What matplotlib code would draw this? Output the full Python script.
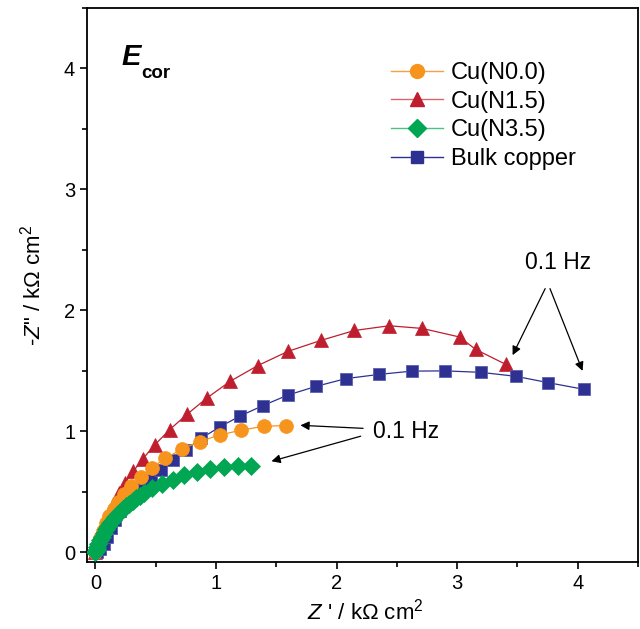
import matplotlib
matplotlib.use("Agg")
import matplotlib.pyplot as plt
from matplotlib.lines import Line2D

plt.rcParams['font.family'] = ['Liberation Sans', 'DejaVu Sans']
plt.rcParams['mathtext.fontset'] = 'custom'
plt.rcParams['mathtext.rm'] = 'Liberation Sans'
plt.rcParams['mathtext.it'] = 'Liberation Sans:italic'
plt.rcParams['mathtext.bf'] = 'Liberation Sans:bold'

# ---- data (kOhm cm^2) ----
n00_x = [0.0, 0.008, 0.02, 0.04, 0.06, 0.085, 0.115, 0.15, 0.188, 0.235, 0.298, 0.375,
         0.467, 0.58, 0.716, 0.865, 1.03, 1.204, 1.395, 1.577]
n00_y = [0.0, 0.03, 0.07, 0.12, 0.18, 0.24, 0.30, 0.36, 0.418, 0.481, 0.547, 0.621,
         0.698, 0.778, 0.852, 0.916, 0.970, 1.009, 1.042, 1.048]

n15_x = [0.0, 0.014, 0.041, 0.077, 0.116, 0.155, 0.196, 0.246, 0.315, 0.392, 0.492,
         0.616, 0.76, 0.925, 1.116, 1.345, 1.596, 1.87, 2.148, 2.436, 2.71, 3.02,
         3.154, 3.405]
n15_y = [0.0, 0.077, 0.17, 0.253, 0.33, 0.404, 0.487, 0.574, 0.671, 0.772, 0.888,
         1.015, 1.141, 1.276, 1.413, 1.543, 1.661, 1.752, 1.834, 1.873, 1.851, 1.78,
         1.677, 1.553]

n35_x = [0.0, 0.005, 0.01, 0.016, 0.025, 0.041, 0.055, 0.072, 0.088, 0.105, 0.123,
         0.143, 0.163, 0.185, 0.206, 0.229, 0.255, 0.282, 0.31, 0.34, 0.37, 0.403,
         0.472, 0.549, 0.64, 0.737, 0.845, 0.953, 1.066, 1.179, 1.29]
n35_y = [0.0, 0.01, 0.025, 0.044, 0.065, 0.104, 0.13, 0.159, 0.19, 0.217, 0.243,
         0.267, 0.29, 0.313, 0.337, 0.36, 0.38, 0.40, 0.425, 0.446, 0.467, 0.487,
         0.528, 0.566, 0.602, 0.64, 0.665, 0.69, 0.704, 0.715, 0.715]

bulk_x = [0.015, 0.04, 0.07, 0.1, 0.13, 0.16, 0.2, 0.26, 0.32, 0.386, 0.46, 0.544,
          0.64, 0.748, 0.878, 1.03, 1.196, 1.389, 1.596, 1.83, 2.077, 2.353, 2.624,
          2.90, 3.195, 3.488, 3.753, 4.054]
bulk_y = [0.005, 0.03, 0.07, 0.13, 0.2, 0.27, 0.34, 0.41, 0.47, 0.533, 0.602, 0.679,
          0.762, 0.847, 0.943, 1.036, 1.125, 1.213, 1.30, 1.372, 1.436, 1.471, 1.498,
          1.50, 1.488, 1.455, 1.403, 1.347]

labels = ['Cu(N0.0)', 'Cu(N1.5)', 'Cu(N3.5)', 'Bulk copper']
c_or = '#F7941D'
c_red = '#BE1E2D'
c_grn = '#00A651'
c_blu = '#2E3192'

fig = plt.figure(figsize=(6.40, 6.29), dpi=100)
ax = fig.add_axes([87/640, 1-562/629, 551/640, 554/629])

ax.plot(n15_x, n15_y, '-', color=c_red, lw=0.9, marker='^', ms=10.5, mec=c_red, mew=0.5, zorder=2)
ax.plot(bulk_x, bulk_y, '-', color=c_blu, lw=0.9, marker='s', ms=8.5, mec='#5a5fb0', mew=0.6, zorder=3)
ax.plot(n00_x, n00_y, '-', color=c_or, lw=0.9, marker='o', ms=10, mec=c_or, mew=0.5, zorder=4)
ax.plot(n35_x, n35_y, '-', color=c_grn, lw=0.9, marker='D', ms=9.5, mec=c_grn, mew=0.5, zorder=5)

ax.set_xlim(-0.07, 4.5)
ax.set_ylim(-0.08, 4.5)
ax.set_xticks([0, 1, 2, 3, 4])
ax.set_yticks([0, 1, 2, 3, 4])
ax.set_xticks([0.5, 1.5, 2.5, 3.5, 4.5], minor=True)
ax.set_yticks([0.5, 1.5, 2.5, 3.5, 4.5], minor=True)
ax.tick_params(which='both', direction='out', labelsize=14.5, width=1.2)
ax.tick_params(which='major', length=5)
ax.tick_params(which='minor', length=3.5)
for s in ax.spines.values():
    s.set_linewidth(1.3)

ax.set_xlabel(r"$Z$ ' / kΩ cm$^2$", fontsize=16)
ax.set_ylabel(r'-$Z$" / kΩ cm$^2$', fontsize=16)
ax.xaxis.set_label_coords(0.506, -0.066)
ax.yaxis.set_label_coords(-0.076, 0.5)

# legend
handles = [
    Line2D([], [], color='#F7A04A', lw=1, marker='o', ms=10, mfc=c_or, mec=c_or),
    Line2D([], [], color='#D9666F', lw=1, marker='^', ms=10.5, mfc=c_red, mec=c_red),
    Line2D([], [], color='#4DC184', lw=1, marker='D', ms=9.5, mfc=c_grn, mec=c_grn),
    Line2D([], [], color=c_blu, lw=1, marker='s', ms=8.5, mfc=c_blu, mec=c_blu),
]
ax.legend(handles, labels, loc='upper left', bbox_to_anchor=(391/640, 1-62/629),
          bbox_transform=fig.transFigure, frameon=False, fontsize=17,
          handlelength=2.2, handletextpad=0.35, labelspacing=0.28, borderpad=0,
          borderaxespad=0)

# E_cor label
fig.text(121/640, 1-65/629, 'E', fontsize=21, fontweight='bold', fontstyle='italic', va='baseline')
fig.text(141/640, 1-78/629, 'cor', fontsize=13.5, fontweight='bold', va='baseline')

# annotations
ax.text(3.84, 2.40, '0.1 Hz', fontsize=16.5, ha='center', va='center')
ap = dict(arrowstyle='-|>', color='black', lw=0.9, mutation_scale=13, shrinkA=0, shrinkB=0)
ax.annotate('', xy=(3.46, 1.63), xytext=(3.73, 2.18), arrowprops=ap)
ax.annotate('', xy=(4.04, 1.50), xytext=(3.77, 2.18), arrowprops=ap)
ax.text(2.30, 1.00, '0.1 Hz', fontsize=16.5, ha='left', va='center')
ax.annotate('', xy=(1.70, 1.05), xytext=(2.22, 1.025), arrowprops=ap)
ax.annotate('', xy=(1.46, 0.753), xytext=(2.20, 0.96), arrowprops=ap)

fig.savefig('out.png', dpi=100)
